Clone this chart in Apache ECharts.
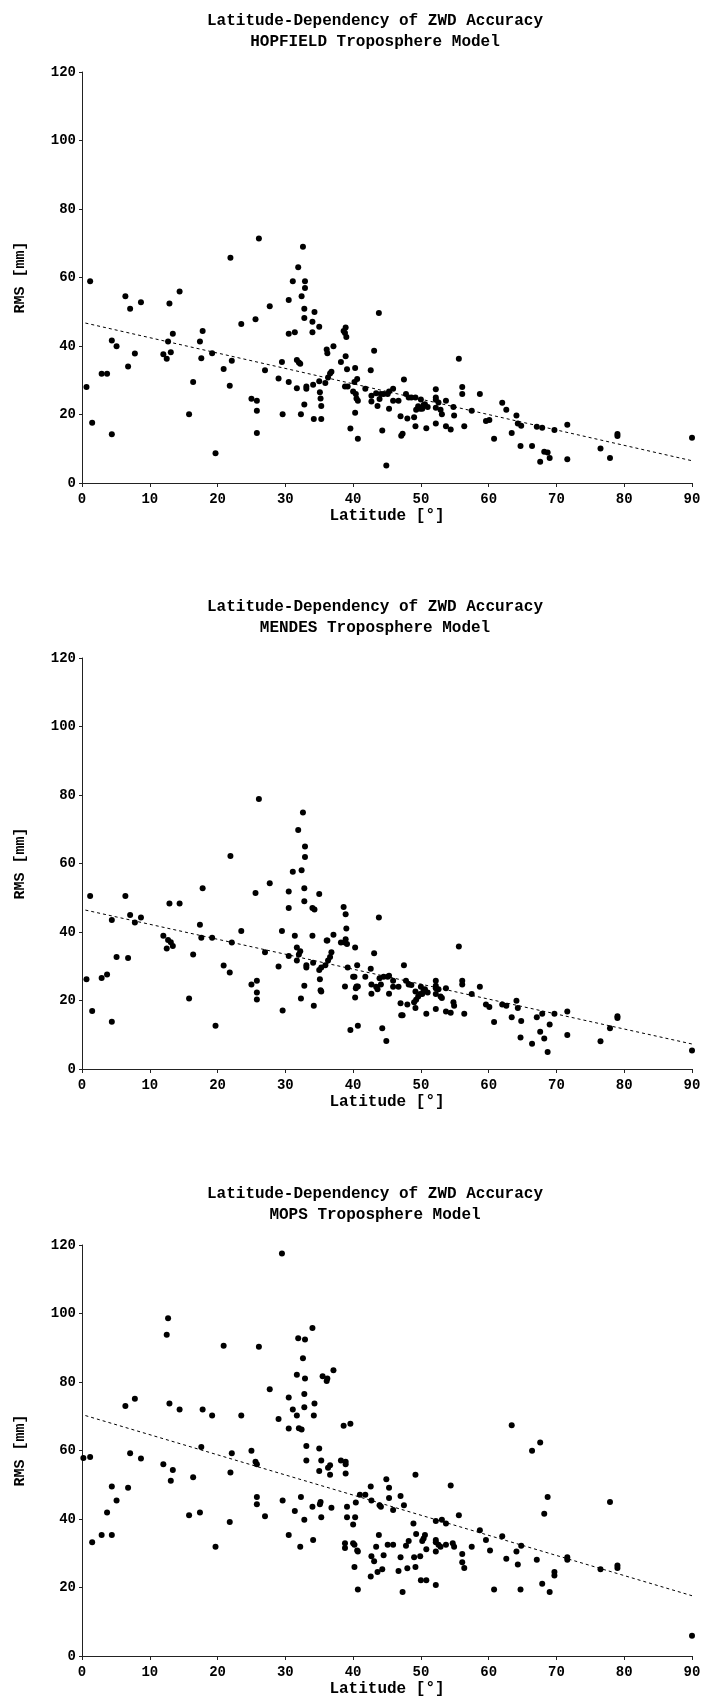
<!DOCTYPE html>
<html>
<head>
<meta charset="utf-8">
<title>Latitude-Dependency of ZWD Accuracy</title>
<script src="https://cdn.jsdelivr.net/npm/echarts@6/dist/echarts.min.js"></script>
<style>
  html, body { margin: 0; padding: 0; background: #fff; }
  #chart { width: 704px; height: 1704px; }
</style>
</head>
<body>
<div id="chart"></div>
<script>
// station latitudes (HOPFIELD / MENDES panels)
const lat = [
  0.66, 1.2, 1.5, 2.9, 3.7, 4.4, 4.4, 5.1, 6.4, 6.8,
  7.1, 7.8, 8.7, 12.0, 12.5, 12.7, 12.9, 13.1, 13.4, 14.4,
  15.8, 16.4, 17.4, 17.6, 17.8, 19.2, 19.7, 20.9, 21.8, 21.9,
  22.1, 23.5, 25.0, 25.6, 25.8, 25.8, 25.8, 26.1, 27.0, 27.7,
  29.0, 29.5, 29.6, 30.5, 30.5, 30.5, 31.1, 31.4, 31.7, 31.7,
  31.9, 32.0, 32.2, 32.3, 32.4, 32.6, 32.8, 32.8, 32.8, 32.9,
  32.9, 33.1, 33.1, 34.0, 34.0, 34.1, 34.2, 34.3, 35.0, 35.0,
  35.1, 35.2, 35.3, 35.3, 35.9, 36.1, 36.2, 36.3, 36.6, 36.8,
  37.1, 38.2, 38.6, 38.8, 38.9, 38.8, 38.9, 39.0, 39.1, 39.2,
  39.6, 40.0, 40.2, 40.3, 40.3, 40.4, 40.6, 40.5, 40.7, 40.7,
  41.8, 42.6, 42.7, 42.7, 43.1, 43.4, 43.6, 43.8, 43.9, 44.1,
  44.3, 44.5, 44.9, 45.1, 45.3, 45.3, 45.9, 45.9, 46.7, 47.0,
  47.1, 47.3, 47.5, 47.8, 48.0, 48.2, 48.6, 49.0, 49.2, 49.2,
  49.3, 49.6, 49.9, 50.0, 50.2, 50.4, 50.6, 50.8, 51.0, 52.2,
  52.2, 52.2, 52.2, 52.2, 52.6, 52.9, 53.1, 53.7, 53.7, 54.4,
  54.8, 54.9, 55.6, 56.1, 56.1, 56.4, 57.5, 58.7, 59.6, 60.1,
  60.8, 62.0, 62.6, 63.4, 64.1, 64.3, 64.7, 64.8, 66.4, 67.1,
  67.6, 67.9, 68.2, 68.7, 69.0, 69.7, 71.6, 71.6, 76.5, 77.9,
  79.0, 79.0, 90.0
];

const rmsHopfield = [
  28.0, 58.9, 17.6, 31.9, 31.9, 41.6, 14.2, 39.9, 54.5, 34.0,
  50.9, 37.8, 52.8, 37.6, 36.3, 41.3, 52.4, 38.2, 43.6, 55.9,
  20.1, 29.5, 41.3, 36.4, 44.4, 37.9, 8.7, 33.3, 28.4, 65.8,
  35.7, 46.4, 24.6, 47.8, 24.0, 21.1, 14.6, 71.4, 32.9, 51.6,
  30.5, 35.3, 20.1, 53.4, 43.6, 29.5, 58.9, 44.0, 27.7, 35.9,
  63.0, 35.2, 34.8, 20.1, 54.5, 69.0, 50.9, 48.2, 22.9, 58.9,
  56.9, 28.2, 27.5, 47.1, 44.0, 28.7, 18.7, 49.9, 45.6, 29.7,
  26.5, 24.7, 22.5, 18.7, 29.2, 39.0, 37.9, 30.8, 32.0, 32.5,
  39.9, 35.3, 44.4, 43.8, 45.4, 28.2, 37.0, 42.6, 33.2, 28.2,
  15.9, 26.7, 29.5, 33.6, 20.5, 26.0, 30.4, 24.7, 24.0, 12.9,
  27.5, 32.9, 25.5, 23.8, 38.6, 26.2, 22.5, 49.6, 24.5, 26.0,
  15.3, 26.0, 5.1, 26.0, 21.7, 26.7, 27.5, 24.0, 24.0, 19.5,
  13.8, 14.4, 30.2, 26.0, 18.8, 25.0, 25.0, 19.2, 16.6, 25.0,
  21.4, 22.4, 21.7, 24.4, 21.7, 22.8, 23.0, 16.0, 22.2, 27.4,
  25.0, 24.3, 22.0, 17.4, 23.5, 21.4, 20.1, 24.0, 16.6, 15.6,
  22.2, 19.7, 36.3, 28.0, 26.0, 16.6, 21.1, 26.0, 18.1, 18.4,
  12.9, 23.4, 21.4, 14.6, 19.7, 17.4, 10.8, 16.7, 10.8, 16.4,
  6.2, 16.1, 9.1, 8.9, 7.3, 15.5, 17.0, 6.9, 10.1, 7.3,
  14.3, 13.7, 13.2
];

const rmsMendes = [
  26.2, 50.5, 16.9, 26.6, 27.6, 43.5, 13.8, 32.7, 50.5, 32.4,
  45.0, 42.8, 44.2, 38.9, 35.2, 37.7, 48.3, 37.0, 35.9, 48.3,
  20.6, 33.4, 42.1, 38.3, 52.8, 38.3, 12.6, 30.2, 28.2, 62.2,
  36.9, 40.3, 24.7, 51.4, 25.8, 22.3, 20.3, 78.8, 34.1, 54.2,
  29.9, 40.3, 17.1, 51.8, 47.0, 33.0, 57.6, 38.9, 31.7, 35.5,
  69.8, 33.4, 34.4, 20.6, 58.0, 74.9, 52.8, 49.0, 24.3, 61.9,
  65.0, 30.3, 29.6, 47.0, 38.9, 31.0, 18.5, 46.6, 51.1, 28.9,
  26.2, 23.0, 22.6, 29.6, 30.3, 37.5, 37.5, 31.7, 32.7, 34.1,
  39.2, 36.9, 47.3, 36.9, 45.2, 24.1, 37.9, 41.0, 36.5, 29.6,
  11.4, 26.9, 26.9, 35.5, 20.9, 23.6, 30.3, 24.1, 24.1, 12.6,
  26.9, 29.3, 24.7, 22.0, 33.8, 24.0, 23.3, 44.2, 26.5, 24.7,
  11.9, 26.9, 8.2, 26.9, 22.0, 27.2, 25.8, 24.0, 24.0, 19.2,
  15.7, 15.7, 30.3, 25.8, 18.8, 24.7, 24.5, 19.5, 17.8, 22.6,
  20.2, 21.2, 21.9, 24.0, 21.9, 23.0, 23.3, 16.1, 22.3, 25.8,
  24.3, 23.6, 21.9, 17.5, 23.3, 21.2, 20.7, 23.6, 16.8, 16.4,
  19.5, 18.5, 35.8, 25.8, 24.7, 16.1, 21.9, 24.0, 18.8, 18.1,
  13.7, 18.8, 18.5, 15.1, 19.9, 17.8, 9.2, 14.0, 7.4, 15.1,
  10.9, 16.1, 8.9, 5.0, 13.0, 16.1, 16.8, 9.9, 8.1, 11.9,
  15.4, 14.9, 5.4
];

// MOPS panel has a few more points
const latMops = [
  0.2, 1.2, 1.5, 2.9, 3.7, 4.4, 4.4, 5.1, 6.4, 6.8,
  7.1, 7.8, 8.7, 12.0, 12.5, 12.7, 12.9, 13.1, 13.4, 14.4,
  15.8, 16.4, 17.4, 17.6, 17.8, 19.2, 19.7, 20.9, 21.8, 21.9,
  22.1, 23.5, 25.0, 25.6, 25.8, 25.8, 25.8, 26.1, 27.0, 27.7,
  29.0, 29.5, 29.6, 30.5, 30.5, 30.5, 31.1, 31.4, 31.7, 31.7,
  31.9, 32.0, 32.2, 32.3, 32.4, 32.6, 32.8, 32.8, 32.8, 32.9,
  32.9, 33.1, 33.1, 34.0, 34.0, 34.1, 34.2, 34.3, 35.0, 35.0,
  35.1, 35.2, 35.3, 35.3, 35.5, 36.1, 36.2, 36.3, 36.6, 36.6,
  36.8, 37.1, 38.2, 38.6, 38.8, 38.8, 38.9, 38.9, 38.9, 39.1,
  39.1, 39.6, 40.0, 40.0, 40.2, 40.2, 40.3, 40.4, 40.6, 40.7,
  40.7, 41.0, 41.8, 42.6, 42.6, 42.7, 42.7, 43.1, 43.4, 43.6,
  43.8, 43.9, 44.1, 44.3, 44.5, 44.9, 45.1, 45.3, 45.3, 45.9,
  45.9, 46.7, 47.0, 47.0, 47.3, 47.5, 47.8, 48.0, 48.2, 48.9,
  49.0, 49.2, 49.2, 49.3, 49.9, 50.0, 50.2, 50.4, 50.6, 50.8,
  50.8, 52.2, 52.2, 52.2, 52.2, 52.2, 52.6, 52.9, 53.1, 53.7,
  53.7, 54.4, 54.7, 54.9, 55.6, 56.1, 56.1, 56.4, 57.5, 58.7,
  59.6, 60.2, 60.8, 62.0, 62.6, 63.4, 64.1, 64.3, 64.7, 64.8,
  66.4, 67.1, 67.6, 67.9, 68.2, 68.7, 69.0, 69.7, 69.7, 71.6,
  71.6, 76.5, 77.9, 79.0, 79.0, 90.0
];

const rmsMops = [
  57.8, 58.1, 33.2, 35.3, 41.9, 49.5, 35.3, 45.4, 73.0, 49.1,
  59.2, 75.1, 57.7, 56.0, 93.8, 98.6, 73.7, 51.2, 54.3, 72.0,
  41.1, 52.2, 41.9, 61.0, 72.0, 70.2, 31.9, 90.6, 39.1, 53.6,
  59.2, 70.2, 59.9, 56.7, 46.4, 44.3, 56.0, 90.3, 40.8, 77.9,
  69.2, 117.5, 45.4, 75.5, 66.4, 35.3, 72.0, 42.3, 70.2, 82.1,
  92.8, 66.5, 31.9, 46.4, 66.1, 86.9, 76.5, 72.6, 39.8, 92.4,
  81.0, 61.3, 57.1, 95.8, 43.6, 33.9, 70.2, 73.7, 60.6, 54.0,
  44.3, 45.0, 40.5, 57.1, 81.7, 80.3, 81.0, 55.0, 55.7, 52.9,
  43.3, 83.4, 57.1, 67.2, 32.9, 31.5, 56.7, 56.0, 53.3, 43.6,
  40.5, 67.8, 32.9, 38.4, 32.5, 26.0, 40.5, 44.8, 30.8, 30.5,
  19.4, 47.1, 47.1, 49.5, 23.2, 45.4, 29.1, 27.7, 31.9, 24.5,
  35.3, 44.0, 43.6, 25.3, 29.4, 51.6, 32.5, 46.1, 49.1, 32.5,
  42.6, 24.8, 46.7, 28.8, 18.7, 44.0, 32.2, 25.6, 33.6, 38.7,
  28.8, 26.0, 52.9, 35.6, 29.1, 22.1, 33.6, 34.3, 35.3, 22.1,
  31.2, 39.4, 33.9, 33.2, 30.5, 20.7, 32.5, 31.9, 39.8, 38.7,
  32.5, 49.8, 32.9, 31.9, 41.1, 29.8, 27.4, 25.7, 31.9, 36.7,
  33.9, 30.8, 19.4, 35.0, 28.4, 67.4, 30.5, 26.7, 19.4, 32.2,
  59.9, 28.1, 62.3, 21.1, 41.5, 46.4, 18.7, 24.5, 23.5, 28.8,
  28.1, 25.3, 45.0, 26.4, 25.7, 5.9
];

// regression line end points (latitude, rms)
const trendLat = [0.5, 90];
const trendHopfield = [46.7, 6.5];
const trendMendes = [46.4, 7.3];
const trendMops = [70.2, 17.6];

const mainTitle = 'Latitude-Dependency of ZWD Accuracy';
const modelNames = ['HOPFIELD', 'MENDES', 'MOPS'];
const xTicks = { min: 0, max: 90, step: 10 };
const yTicks = { min: 0, max: 120, step: 20 };

const panels = [
  { lat: lat, rms: rmsHopfield, trend: trendHopfield, top: 72 },
  { lat: lat, rms: rmsMendes, trend: trendMendes, top: 658 },
  { lat: latMops, rms: rmsMops, trend: trendMops, top: 1245 }
];

const FONT = '"Liberation Mono", "DejaVu Sans Mono", monospace';
const PLOT_H = 411;

const zip = (xs, ys) => xs.map((x, i) => [x, ys[i]]);

const chart = echarts.init(document.getElementById('chart'), null, { renderer: 'canvas' });

const option = {
  backgroundColor: '#fff',
  animation: false,
  title: [],
  grid: [],
  xAxis: [],
  yAxis: [],
  series: []
};

panels.forEach((p, i) => {
  option.title.push({
    text: mainTitle + '\n' + modelNames[i] + ' Troposphere Model',
    left: 370,
    top: p.top - 67,
    textAlign: 'center',
    textStyle: {
      fontFamily: FONT,
      fontSize: 16,
      fontWeight: 'bold',
      color: '#000',
      lineHeight: 21
    }
  });

  option.grid.push({ left: 82, width: 610, top: p.top, height: PLOT_H });

  option.xAxis.push({
    gridIndex: i,
    type: 'value',
    min: xTicks.min,
    max: xTicks.max,
    interval: xTicks.step,
    name: 'Latitude [°]',
    nameLocation: 'middle',
    nameGap: 25,
    nameTextStyle: { fontFamily: FONT, fontSize: 16, fontWeight: 'bold', color: '#000' },
    axisLine: { lineStyle: { color: '#222', width: 1 } },
    axisTick: { length: 4, lineStyle: { color: '#222' } },
    axisLabel: { margin: 9, fontFamily: FONT, fontSize: 14, fontWeight: 'bold', color: '#000' },
    splitLine: { show: false }
  });

  option.yAxis.push({
    gridIndex: i,
    type: 'value',
    min: yTicks.min,
    max: yTicks.max,
    interval: yTicks.step,
    name: 'RMS [mm]',
    nameLocation: 'middle',
    nameRotate: 90,
    nameGap: 54,
    nameTextStyle: { fontFamily: FONT, fontSize: 15, fontWeight: 'bold', color: '#000' },
    axisLine: { show: true, lineStyle: { color: '#222', width: 1 } },
    axisTick: { length: 3, lineStyle: { color: '#222' } },
    axisLabel: { margin: 6, fontFamily: FONT, fontSize: 14, fontWeight: 'bold', color: '#000' },
    splitLine: { show: false }
  });

  option.series.push({
    type: 'scatter',
    xAxisIndex: i,
    yAxisIndex: i,
    symbol: 'circle',
    symbolSize: 6,
    itemStyle: { color: '#000', opacity: 1 },
    data: zip(p.lat, p.rms)
  });

  option.series.push({
    type: 'line',
    xAxisIndex: i,
    yAxisIndex: i,
    showSymbol: false,
    lineStyle: { color: '#000', width: 1, type: [3, 3] },
    data: zip(trendLat, p.trend),
    z: 1
  });
});

chart.setOption(option);
</script>
</body>
</html>
